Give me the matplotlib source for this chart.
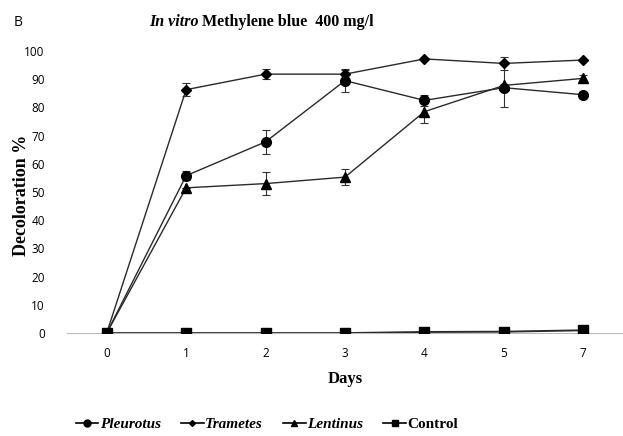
import matplotlib
matplotlib.use("Agg")
import matplotlib.pyplot as plt
from matplotlib.lines import Line2D

days = ["0", "1", "2", "3", "4", "5", "7"]

pleurotus = [0, 55.8, 67.8, 89.5, 82.5, 87.0, 84.5]
pleurotus_err = [0, 1.5, 4.3, 4.0, 2.0, 0, 0]

trametes = [0, 86.3, 91.8, 91.8, 97.2, 95.6, 96.8]
trametes_err = [0, 2.4, 1.8, 1.5, 0, 2.3, 0]

lentinus = [0, 51.5, 53.0, 55.3, 78.5, 87.8, 90.3]
lentinus_err = [0, 0, 4.2, 2.8, 4.0, 7.5, 1.2]

control = [0, 0, 0, 0, 0.4, 0.5, 1.0]

W, H = 623, 436
fig = plt.figure(figsize=(W / 100, H / 100), dpi=100)
ax = fig.add_axes([0.1075, 0.236, 0.8925, 0.647])

x = list(range(len(days)))
serif = "Liberation Serif"
sans = "Open Sans"

series = [
    ("Pleurotus", pleurotus, pleurotus_err, "o", 7, "italic"),
    ("Trametes", trametes, trametes_err, "D", 5, "italic"),
    ("Lentinus", lentinus, lentinus_err, "^", 7, "italic"),
    ("Control", control, None, "s", 7, "normal"),
]

for name, vals, err, mk, ms, _ in series:
    lw = 1.4 if name == "Control" else 1.0
    ax.errorbar(x, vals, yerr=err, color="#2a2a2a", lw=lw, marker=mk,
                markersize=ms, markerfacecolor="black", markeredgecolor="black",
                ecolor="#333333", elinewidth=0.8, capsize=3, capthick=0.8,
                zorder=3)

ax.set_xlim(-0.5, 6.5)
ax.set_ylim(0, 100)
ax.set_xticks(x)
ax.set_xticklabels(days)
ax.set_yticks(range(0, 101, 10))
for s in ["top", "right", "left"]:
    ax.spines[s].set_visible(False)
ax.spines["bottom"].set_color("#bbbbbb")
ax.spines["bottom"].set_linewidth(0.8)
ax.tick_params(axis="both", length=0, labelsize=8.5, pad=10)
ax.tick_params(axis="y", pad=16)
for lab in ax.get_xticklabels() + ax.get_yticklabels():
    lab.set_fontfamily(sans)

ax.set_xlabel("Days", fontfamily=serif, fontweight="bold", fontsize=12,
              labelpad=8)
fig.text(22 / W, 1 - 195 / H, "Decoloration %", fontfamily=serif,
         fontweight="bold", fontsize=13, rotation=90, ha="center",
         va="center")

# title: italic "In vitro" followed by upright remainder
ty = 1 - 22 / H
fig.text(199 / W, ty, "In vitro", fontfamily=serif, fontstyle="italic",
         fontweight="bold", fontsize=11.5, ha="right", va="center")
fig.text(202 / W, ty, "Methylene blue  400 mg/l", fontfamily=serif,
         fontweight="bold", fontsize=11.5, ha="left", va="center")
fig.text(14 / W, ty, "B", fontfamily=sans, fontsize=10, ha="left",
         va="center")

handles = [Line2D([0], [0], color="black", lw=1.2, marker=mk,
                  markersize=ms - 2, markerfacecolor="black")
           for _, _, _, mk, ms, _ in series]
leg = fig.legend(handles, [s[0] for s in series], loc="center",
                 bbox_to_anchor=(267 / W, 1 - 424 / H), ncol=4,
                 frameon=False, handlelength=1.5, handletextpad=0.1,
                 columnspacing=1.3,
                 prop={"family": serif, "weight": "bold", "size": 11})
for t, s in zip(leg.get_texts(), series):
    t.set_fontstyle(s[5])

fig.savefig("out.png", dpi=100)
